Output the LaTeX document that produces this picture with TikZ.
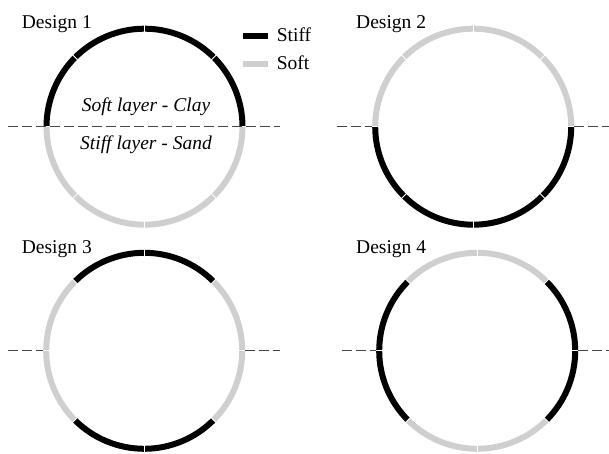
\documentclass[tikz,border=0pt]{standalone}
\usepackage{fontspec}
\setmainfont{Liberation Serif}
\definecolor{softgray}{HTML}{CFCFCF}
\definecolor{dashgray}{HTML}{454545}
\begin{document}
\begin{tikzpicture}[x=1pt,y=1pt,
  stiffseg/.style={line width=6pt, draw=black},
  softseg/.style={line width=6pt, draw=softgray},
  sepline/.style={draw=white, line width=0.9pt},
  axisline/.style={draw=dashgray, line width=1.2pt, dash pattern=on 10pt off 4pt},
  lbl/.style={font=\fontsize{19.5}{22}\selectfont, inner sep=0pt},
]
\useasboundingbox (0,0) rectangle (609,454);
\coordinate (c1) at (144.5,327.3);
\coordinate (c2) at (473.2,327.3);
\coordinate (c3) at (144.2,103.2);
\coordinate (c4) at (477.2,103.2);
% segments
\foreach \c/\a/\s in {
  c1/0/stiffseg, c1/45/stiffseg, c1/90/stiffseg, c1/135/stiffseg,
  c1/180/softseg, c1/225/softseg, c1/270/softseg, c1/315/softseg,
  c2/0/softseg, c2/45/softseg, c2/90/softseg, c2/135/softseg,
  c2/180/stiffseg, c2/225/stiffseg, c2/270/stiffseg, c2/315/stiffseg,
  c3/0/softseg, c3/45/stiffseg, c3/90/stiffseg, c3/135/softseg,
  c3/180/softseg, c3/225/stiffseg, c3/270/stiffseg, c3/315/softseg,
  c4/0/stiffseg, c4/45/softseg, c4/90/softseg, c4/135/stiffseg,
  c4/180/stiffseg, c4/225/softseg, c4/270/softseg, c4/315/stiffseg}
  \draw[\s] (\c) ++(\a:98) arc[start angle=\a, delta angle=45, radius=98];
% separators
\foreach \c in {c1,c2,c3,c4}
  \foreach \a in {0,45,...,315}
    \draw[sepline] (\c) ++(\a:94.3) -- ++(\a:7.4);
% dashed axes
\coordinate (d1l) at (8,327.3);   \coordinate (d1r) at (280,327.3);
\coordinate (d2a) at (337,327.3); \coordinate (d2b) at (372.2,327.3);
\coordinate (d2c) at (574.2,327.3); \coordinate (d2d) at (609,327.3);
\coordinate (d3a) at (8,103.2);   \coordinate (d3b) at (43.2,103.2);
\coordinate (d3c) at (245.2,103.2); \coordinate (d3d) at (280,103.2);
\coordinate (d4a) at (342,103.2); \coordinate (d4b) at (376.2,103.2);
\coordinate (d4c) at (578.2,103.2); \coordinate (d4d) at (609,103.2);
\draw[axisline] (d1l) -- (d1r);
\draw[axisline] (d2a) -- (d2b);
\draw[axisline] (d2c) -- (d2d);
\draw[axisline] (d3a) -- (d3b);
\draw[axisline] (d3c) -- (d3d);
\draw[axisline] (d4a) -- (d4b);
\draw[axisline] (d4c) -- (d4d);
% titles
\node[lbl, anchor=base west] (t1) at (21.7,425.7) {Design 1};
\node[lbl, anchor=base west] (t2) at (356,425.7) {Design 2};
\node[lbl, anchor=base west] (t3) at (21.7,200) {Design 3};
\node[lbl, anchor=base west] (t4) at (356,200) {Design 4};
% layer labels
\node[lbl, anchor=base] (clay) at (146,342.3) {\itshape Soft layer - Clay};
\node[lbl, anchor=base] (sand) at (146,304) {\itshape Stiff layer - Sand};
% legend
\coordinate (l1a) at (243.3,418); \coordinate (l1b) at (268.3,418);
\coordinate (l2a) at (243.3,390); \coordinate (l2b) at (268.3,390);
\draw[stiffseg] (l1a) -- (l1b);
\draw[softseg] (l2a) -- (l2b);
\node[lbl, anchor=base west] (lstiff) at (276.7,412.3) {Stiff};
\node[lbl, anchor=base west] (lsoft) at (276.7,384) {Soft};
\end{tikzpicture}
\end{document}
